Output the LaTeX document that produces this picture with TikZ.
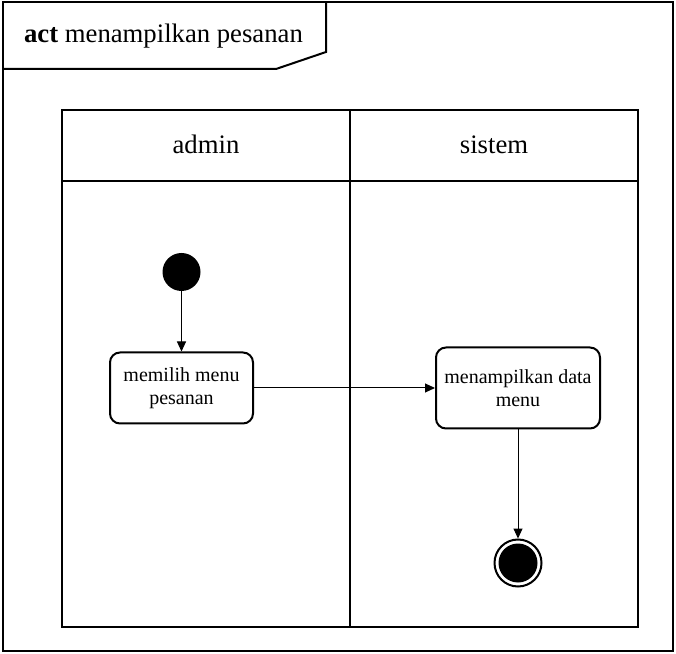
\documentclass[tikz,border=0pt]{standalone}
\usepackage{fontspec}
\setmainfont{Liberation Serif}
\usetikzlibrary{arrows.meta}

\begin{document}
\begin{tikzpicture}[x=1pt, y=1pt, node distance=116pt,
                    >={Triangle[length=10pt,width=9pt]}]
        \tikzstyle{frm}  = [line width=2pt]
        \tikzstyle{hd}   = [font=\fontsize{26.7}{30}\selectfont, anchor=base]
        \tikzstyle{ini}  = [circle, fill=black, minimum size=38pt, inner sep=0pt]
        \tikzstyle{actn} = [rectangle, rounded corners=10pt, text centered,
                            align=center, draw=black, line width=2pt,
                            font=\fontsize{20}{23}\selectfont]
        \tikzstyle{fin}  = [circle, draw=black, line width=2pt, minimum size=47pt,
                            inner sep=0pt, path picture={\fill[black]
                            (path picture bounding box.center) circle (19.5pt);}]

        \useasboundingbox (0,0) rectangle (676,653);

        \draw[frm] (3,650.5) rectangle (673,2.5);
        \draw[frm] (3,584) -- (276,584) -- (326,601) -- (326,650.5);
        \draw[frm] (62,543) rectangle (638,26);
        \draw[frm] (62,472) -- (638,472);
        \draw[frm] (350,543) -- (350,26);

        \node(title)  [hd] at (163.5,610) {\textbf{act} menampilkan pesanan};
        \node(admin)  [hd] at (206,499) {admin};
        \node(sistem) [hd] at (494,499) {sistem};

        \node(start)  [ini] at (181.5,381) {};
        \node(act1)   [actn, below of=start, minimum width=143pt,
                       minimum height=71pt] {memilih menu\\pesanan};
        \node(act2)   [actn, right of=act1, xshift=220.5pt, minimum width=164pt,
                       minimum height=81pt] {menampilkan data\\menu};
        \node(end)    [fin, below of=act2, yshift=-59pt] {};

        \draw[->, line width=1pt] (start) -- (act1);
        \draw[->, line width=1pt] (act1) -- (act2);
        \draw[->, line width=1pt] (act2) -- (end);
      \end{tikzpicture}
\end{document}
